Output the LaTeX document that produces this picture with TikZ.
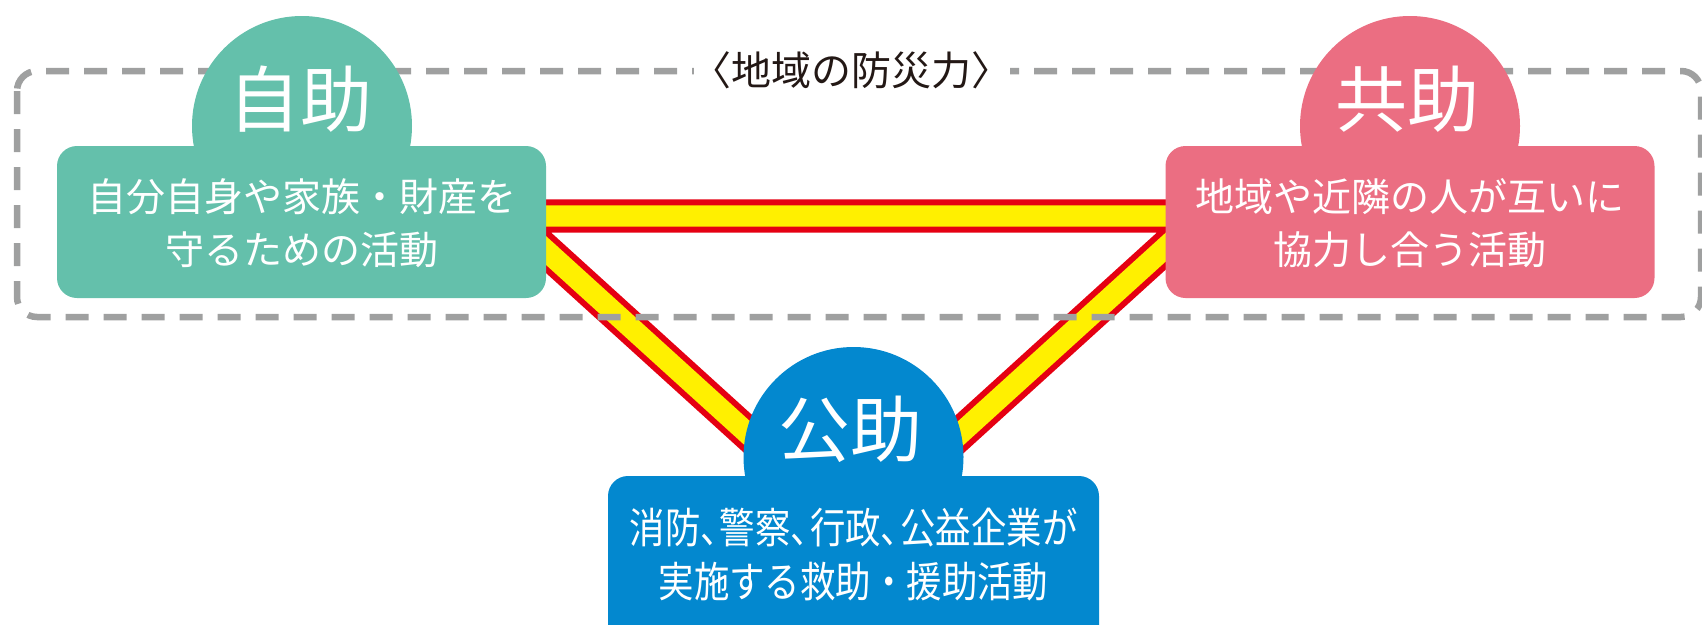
\documentclass[tikz,border=0pt]{standalone}
\usepackage{fontspec}
\newfontfamily\jp{Noto Sans CJK JP}
\newfontfamily\jpn[FakeStretch=0.843]{Noto Sans CJK JP}
\definecolor{selfgreen}{HTML}{64C0AB}
\definecolor{mutualpink}{HTML}{EB6E82}
\definecolor{publicblue}{HTML}{0388CF}
\definecolor{bandyellow}{HTML}{FFF000}
\definecolor{bandred}{HTML}{E50012}
\definecolor{dashgray}{HTML}{9FA0A0}
\definecolor{titleink}{HTML}{231815}
\tikzset{
  dome/.style={circle, inner sep=0pt, minimum size=220pt, draw=none},
  panel/.style={rectangle, rounded corners=20pt, inner sep=0pt, draw=none, minimum width=489pt},
  bigword/.style={text=white, inner sep=0pt, font=\jp\fontsize{72}{80}\selectfont},
  boxtext/.style={text=white, inner sep=0pt, align=center, font=\jp\fontsize{39}{53}\selectfont},
  bluetext/.style={text=white, inner sep=0pt, align=center, font=\jpn\fontsize{42}{54}\selectfont},
  bandouter/.style={draw=bandred, line width=33.4pt, line join=miter},
  bandinner/.style={draw=bandyellow, line width=21.4pt, line join=miter},
  areaframe/.style={draw=dashgray, line width=6.5pt, rounded corners=20pt, dash pattern=on 23pt off 15pt}
}
\begin{document}
\begin{tikzpicture}[x=1pt,y=-1pt]
\useasboundingbox (0,0) rectangle (1702,624);
% triangle band
\coordinate (vL) at (508,216);
\coordinate (vR) at (1200,216);
\coordinate (vB) at (854,530);
\draw[bandouter] (vL) -- (vR) -- (vB) -- cycle;
\draw[bandinner] (vL) -- (vR) -- (vB) -- cycle;
% dashed area frame
\coordinate (frameTL) at (17,71);
\coordinate (frameBR) at (1701,317);
\draw[areaframe] (frameTL) rectangle (frameBR);
\node[fill=white, inner xsep=-2pt, inner ysep=2pt, text=titleink, font=\jp\fontsize{40}{44}\selectfont] (title) at (851.5,70) {〈地域の防災力〉};
% self-help
\node[dome, fill=selfgreen] (selfdome) at (302,126) {};
\node[panel, fill=selfgreen, minimum height=152pt] (selfbox) at (301.5,222) {};
\node[bigword] (selflabel) at (300,99) {自助};
\node[boxtext] (selftext) at (301.5,223.5) {自分自身や家族・財産を\\守るための活動};
% mutual help
\node[dome, fill=mutualpink] (mutualdome) at (1410,126) {};
\node[panel, fill=mutualpink, minimum height=152pt] (mutualbox) at (1410,222) {};
\node[bigword] (mutuallabel) at (1407,99) {共助};
\node[boxtext] (mutualtext) at (1410,223.5) {地域や近隣の人が互いに\\協力し合う活動};
% public help
\node[dome, fill=publicblue] (publicdome) at (853.5,457) {};
\node[panel, fill=publicblue, minimum width=491pt, minimum height=200pt] (publicbox) at (853.5,576) {};
\node[bigword] (publiclabel) at (850,429) {公助};
\node[bluetext] (publictext) at (853.5,555) {消防、\kern-0.38em警察、\kern-0.38em行政、\kern-0.38em公益企業が\\実施する救助・援助活動};
\end{tikzpicture}
\end{document}
